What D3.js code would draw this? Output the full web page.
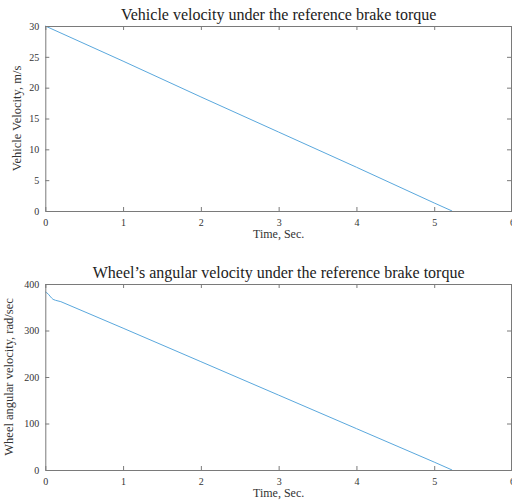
<!DOCTYPE html>
<html>
<head>
<meta charset="utf-8">
<script src="https://cdn.jsdelivr.net/npm/d3@7.9.0/dist/d3.min.js"></script>
<style>
  body { margin: 0; background: #fff; }
  svg { display: block; font-family: "Liberation Serif", "DejaVu Serif", serif; }
  .tick text { fill: #333; }
</style>
</head>
<body>
<svg width="512" height="502"></svg>
<script>
// top plot: vehicle velocity
const timeTop = [0, 1, 2, 3, 4, 5, 5.23];
const velocity = [30, 24.3, 18.5, 12.8, 7.1, 1.3, 0];

// bottom plot: wheel angular velocity
const timeBottom = [0, 0.02, 0.04, 0.06, 0.08, 0.1, 0.13, 0.2, 1, 2, 3, 4, 5, 5.23];
const wheelSpeed = [383, 381, 378, 374, 370, 367, 365, 362, 305, 233, 161, 89, 17, 0];

const xTicks = [0, 1, 2, 3, 4, 5, 6];
const yTicksTop = [0, 5, 10, 15, 20, 25, 30];
const yTicksBottom = [0, 100, 200, 300, 400];

const svg = d3.select("svg");
const axisColor = "#7a7a7a";
const lineColor = "#5aa8dd";

function panel(opts) {
  const { top, bottom, xs, ys, yDomain, yTicks, title, ylabel, labelX } = opts;
  const left = 45.3, right = 512;
  const x = d3.scaleLinear().domain([0, 6]).range([left, right]);
  const y = d3.scaleLinear().domain(yDomain).range([bottom, top]);
  const g = svg.append("g");

  // data line
  const pts = xs.map((t, i) => [t, ys[i]]);
  g.append("path")
    .datum(pts)
    .attr("fill", "none")
    .attr("stroke", lineColor)
    .attr("stroke-width", 1)
    .attr("d", d3.line().x(d => x(d[0])).y(d => y(d[1])));

  // bottom axis, ticks pointing inward
  const xb = g.append("g").attr("transform", `translate(0,${bottom})`)
    .call(d3.axisBottom(x).tickValues(xTicks).tickFormat(d3.format("d")).tickSizeInner(-4).tickSizeOuter(0).tickPadding(8));
  // top axis, ticks only
  const xt = g.append("g").attr("transform", `translate(0,${top})`)
    .call(d3.axisTop(x).tickValues(xTicks).tickFormat("").tickSizeInner(-4).tickSizeOuter(0));
  // left axis
  const yl = g.append("g").attr("transform", `translate(${left},0)`)
    .call(d3.axisLeft(y).tickValues(yTicks).tickFormat(d3.format("d")).tickSizeInner(-4).tickSizeOuter(0).tickPadding(6));
  // right axis ticks
  const yr = g.append("g").attr("transform", `translate(${right - 1},0)`)
    .call(d3.axisRight(y).tickValues(yTicks).tickFormat("").tickSizeInner(-4).tickSizeOuter(0));

  [xb, xt, yl, yr].forEach(a => {
    a.select(".domain").attr("stroke", axisColor);
    a.selectAll(".tick line").attr("stroke", axisColor);
    a.selectAll(".tick text").attr("font-size", 10).attr("font-family", "Liberation Serif, serif");
  });

  g.append("text")
    .attr("x", x(3)).attr("y", top - 6)
    .attr("text-anchor", "middle").attr("font-size", 16).attr("fill", "#222")
    .text(title);

  g.append("text")
    .attr("x", x(3)).attr("y", bottom + 27)
    .attr("text-anchor", "middle").attr("font-size", 12).attr("fill", "#333")
    .text("Time, Sec.");

  g.append("text")
    .attr("transform", `translate(${labelX},${(top + bottom) / 2}) rotate(-90)`)
    .attr("text-anchor", "middle").attr("font-size", 12.5).attr("fill", "#333")
    .text(ylabel);
}

panel({
  top: 26, bottom: 211, xs: timeTop, ys: velocity, yDomain: [0, 30], yTicks: yTicksTop,
  title: "Vehicle velocity under the reference brake torque",
  ylabel: "Vehicle Velocity, m/s", labelX: 21
});

panel({
  top: 284, bottom: 470, xs: timeBottom, ys: wheelSpeed, yDomain: [0, 400], yTicks: yTicksBottom,
  title: "Wheel\u2019s angular velocity under the reference brake torque",
  ylabel: "Wheel angular velocity, rad/sec", labelX: 13
});
</script>
</body>
</html>
